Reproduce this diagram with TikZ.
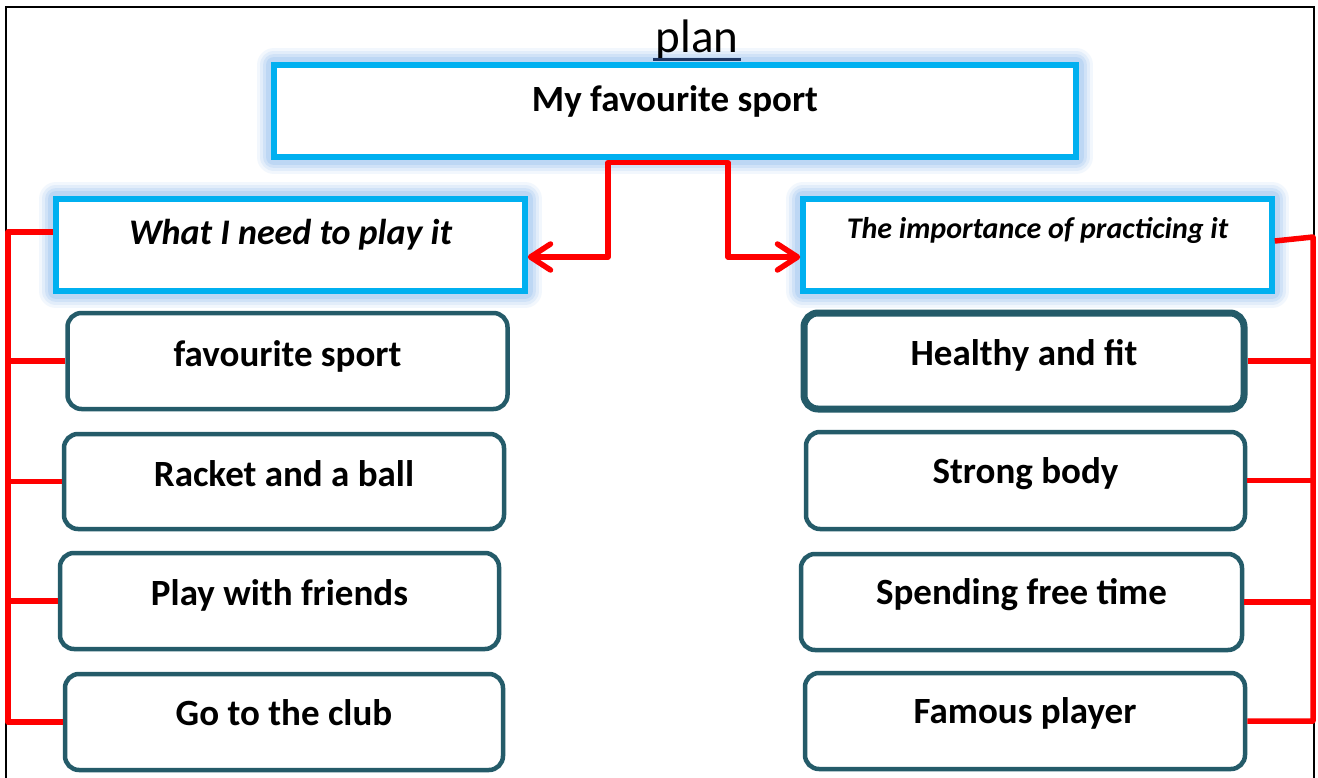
\documentclass[tikz,border=0pt]{standalone}
\usepackage{fontspec}
\setmainfont{Carlito}
\usetikzlibrary{arrows.meta}
\definecolor{bluec}{HTML}{00B0F0}
\definecolor{glowc}{HTML}{9CC4F0}
\definecolor{tealc}{HTML}{245B69}
\definecolor{redc}{HTML}{FF0000}
\definecolor{navyc}{HTML}{1F3864}
\begin{document}
\begin{tikzpicture}[x=1pt,y=-1pt,
  bluebox/.style={rectangle, draw=bluec, line width=5.5pt, fill=white, inner sep=0pt,
    preaction={draw=glowc, draw opacity=0.12, line width=34pt, line join=round},
    preaction={draw=glowc, draw opacity=0.18, line width=28pt, line join=round},
    preaction={draw=glowc, draw opacity=0.25, line width=22pt, line join=round},
    preaction={draw=glowc, draw opacity=0.35, line width=16pt, line join=round}},
  rbox/.style={rectangle, draw=tealc, line width=4.5pt, fill=white, rounded corners=14pt, inner sep=0pt},
  lbl/.style={font=\fontsize{37}{44}\selectfont\bfseries, anchor=base, inner sep=0pt},
  redline/.style={draw=redc, line width=5.5pt, line join=round},
  redarrow/.style={redline, -{Straight Barb[length=20pt,width=26pt,round]}},
  framec/.style={draw=black, line width=2pt}
]
\useasboundingbox (0,0) rectangle (1318,778);
\fill[white] (0,0) rectangle (1318,778);
% outer frame
\draw[framec] (6,790) -- (6,7) -- (1314,7) -- (1314,790);

% blue header boxes
\node[bluebox, minimum width=802pt, minimum height=92pt] (top) at (675,111) {};
\node[lbl] (ttop) at (675,112) {My favourite sport};
\node[font=\fontsize{47}{56}\selectfont, anchor=base, inner sep=0pt] (plan) at (697,53) {plan};
\draw[navyc, line width=3pt] ([yshift=-7pt,xshift=-2pt]plan.base west) -- ([yshift=-7pt,xshift=2pt]plan.base east);

\node[bluebox, minimum width=469pt, minimum height=92pt] (lb) at (290.5,245) {};
\node[lbl, font=\fontsize{36}{44}\selectfont\bfseries\itshape] (tlb) at (lb.center |- 0,245) {What I need to play it};
\node[bluebox, minimum width=469pt, minimum height=92pt] (rb) at (1037.5,245) {};
\node[lbl, font=\fontsize{30}{36}\selectfont\bfseries\itshape] (trb) at (rb.center |- 0,239) {The importance of practicing it};

% left rounded boxes
\node[rbox, minimum width=440pt, minimum height=96pt] (l1) at (287.5,361) {};
\node[lbl] (tl1) at (l1.center |- 0,366) {favourite sport};
\node[rbox, minimum width=440pt, minimum height=95pt] (l2) at (284,481.5) {};
\node[lbl] (tl2) at (l2.center |- 0,486) {Racket and a ball};
\node[rbox, minimum width=439pt, minimum height=96pt] (l3) at (279.5,601) {};
\node[lbl] (tl3) at (l3.center |- 0,605) {Play with friends};
\node[rbox, minimum width=438pt, minimum height=96pt] (l4) at (284,722) {};
\node[lbl] (tl4) at (l4.center |- 0,725) {Go to the club};

% right rounded boxes
\node[rbox, line width=7pt, minimum width=440pt, minimum height=96pt] (r1) at (1024,361) {};
\node[lbl] (tr1) at (r1.center |- 0,365) {Healthy and fit};
\node[rbox, minimum width=439pt, minimum height=97pt] (r2) at (1025.5,480.5) {};
\node[lbl] (tr2) at (r2.center |- 0,483) {Strong body};
\node[rbox, minimum width=441pt, minimum height=96pt] (r3) at (1021.5,602) {};
\node[lbl] (tr3) at (r3.center |- 0,604) {Spending free time};
\node[rbox, minimum width=440pt, minimum height=96pt] (r4) at (1025,721) {};
\node[lbl] (tr4) at (r4.center |- 0,723) {Famous player};

% connectors from header
\coordinate (ml) at (608,257);
\coordinate (mr) at (728,257);
\draw[redarrow] ([yshift=-3pt]top.south) -| (ml) -- ([yshift=-12pt]lb.east);
\draw[redarrow] ([yshift=-3pt]top.south) -| (mr) -- ([yshift=-12pt]rb.west);

% left bracket
\coordinate (lv) at (8,232);
\draw[redline] ([yshift=13pt]lb.west) -- (lv) |- (l4.west);
\draw[redline] (l1.west) -- (l1.west -| lv);
\draw[redline] (l2.west) -- (l2.west -| lv);
\draw[redline] (l3.west) -- (l3.west -| lv);

% right bracket
\coordinate (rv) at (1313,237);
\draw[redline] ([yshift=4pt]rb.east) -- (rv) |- (r4.east);
\draw[redline] (r1.east) -- (r1.east -| rv);
\draw[redline] (r2.east) -- (r2.east -| rv);
\draw[redline] (r3.east) -- (r3.east -| rv);
\end{tikzpicture}
\end{document}
